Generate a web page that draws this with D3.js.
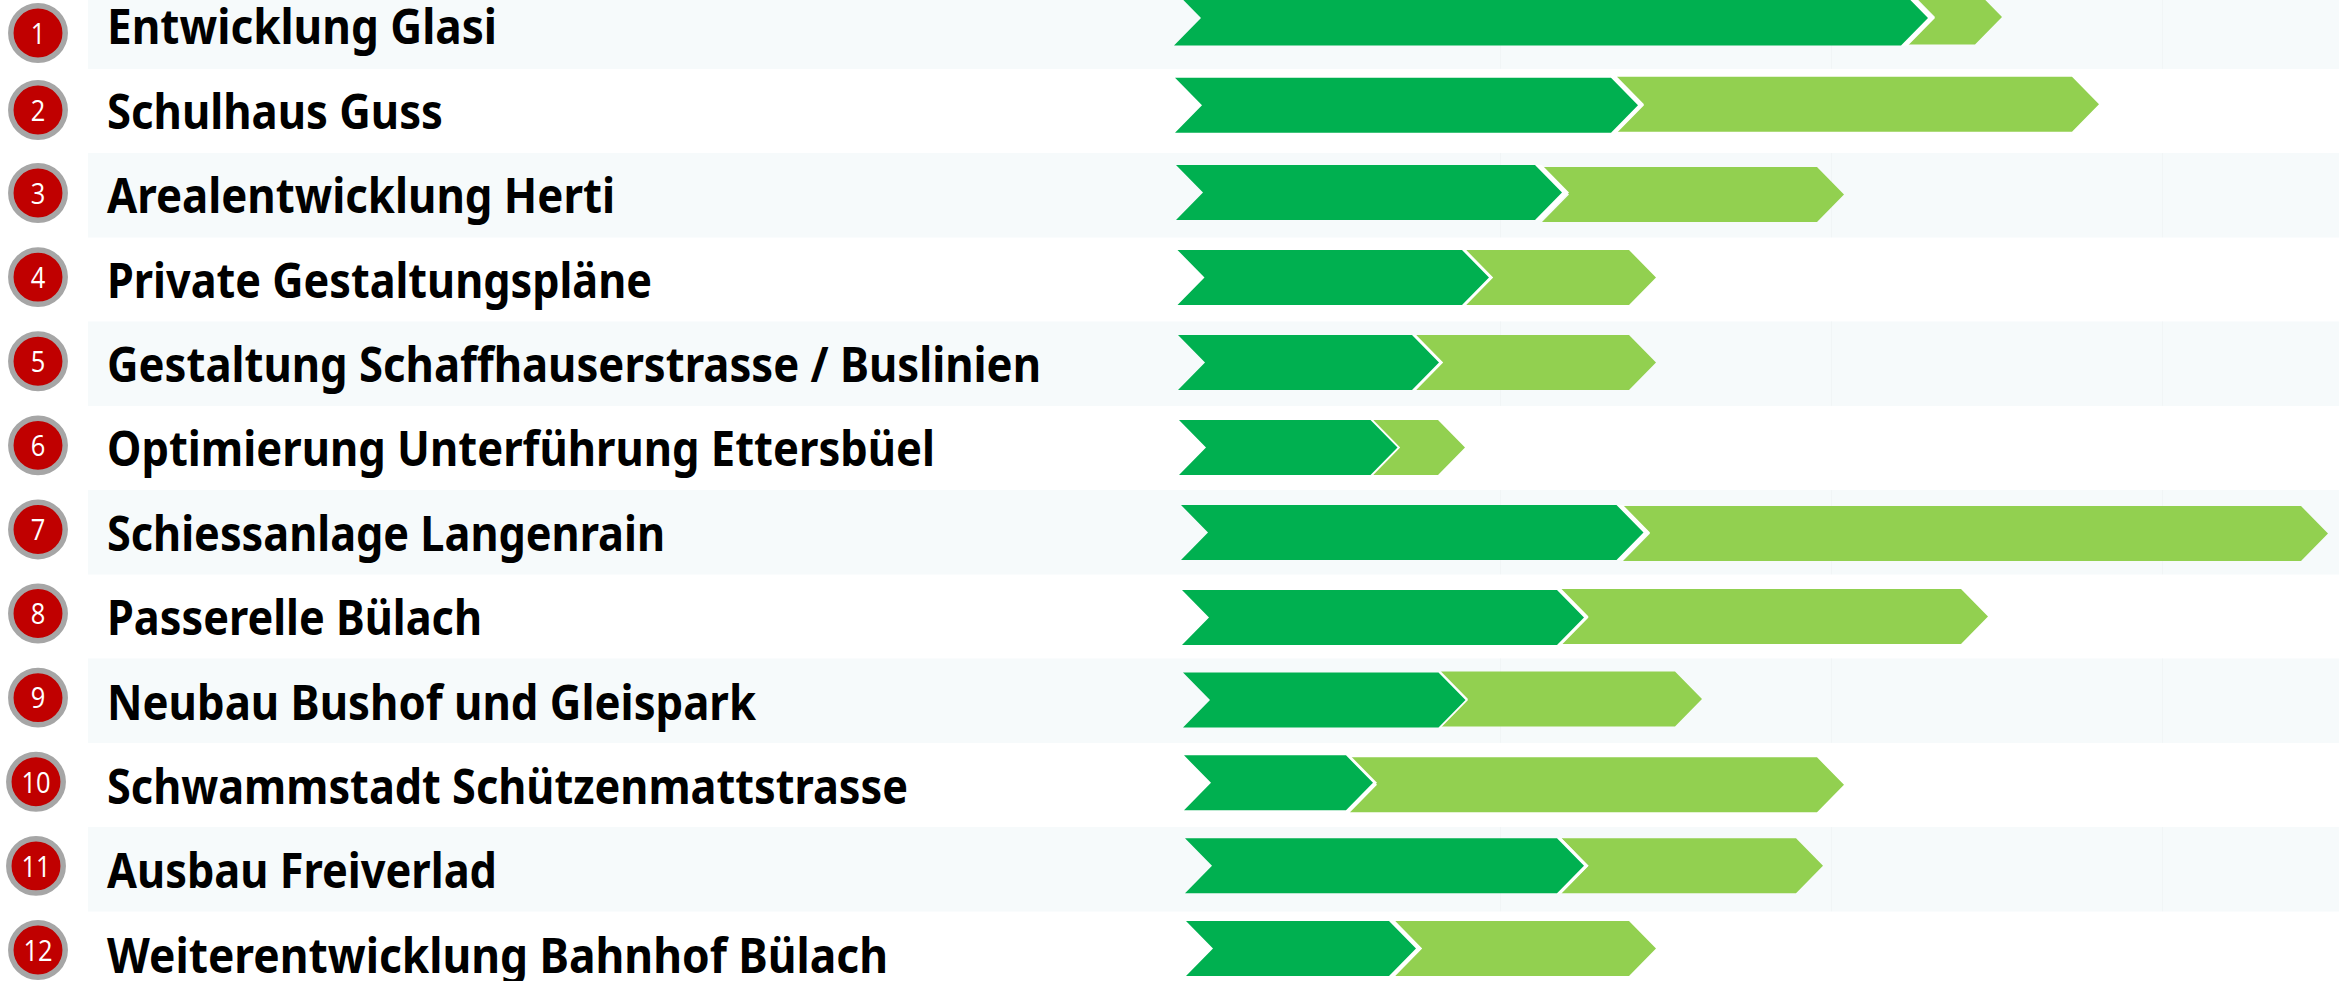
<!DOCTYPE html>
<html>
<head>
<meta charset="utf-8">
<script src="https://cdn.jsdelivr.net/npm/d3@7"></script>
<style>
  html, body { margin: 0; padding: 0; background: #fff; overflow: hidden; }
</style>
</head>
<body>
<div id="chart"></div>
<script>
const projects = [
  "Entwicklung Glasi", "Schulhaus Guss", "Arealentwicklung Herti", "Private Gestaltungspläne",
  "Gestaltung Schaffhauserstrasse / Buslinien", "Optimierung Unterführung Ettersbüel",
  "Schiessanlage Langenrain", "Passerelle Bülach", "Neubau Bushof und Gleispark",
  "Schwammstadt Schützenmattstrasse", "Ausbau Freiverlad", "Weiterentwicklung Bahnhof Bülach"
];
// x values, in picture pixels
const barStart = [1174, 1175, 1176, 1177.5, 1178, 1179, 1181, 1182, 1183, 1184, 1185, 1186];
const darkEnd = [1928, 1638, 1562, 1489, 1439, 1397.5, 1643.5, 1584, 1465.5, 1373, 1584, 1416];
const lightStart = [1908, 1617, 1542, 1466, 1416, 1373, 1623, 1561.5, 1441, 1350, 1561.5, 1395];
const lightEnd = [2002, 2099, 1844, 1656, 1656, 1465, 2328, 1988, 1702, 1844, 1823, 1656];
const gridTicks = [1500, 1831, 2162];

const width = 2339, height = 981;
const barH = 55, tipDepth = 27;

const svg = d3.select("#chart").append("svg")
  .attr("width", width)
  .attr("height", height);

const x = d3.scaleLinear().domain([0, width]).range([0, width]);

// the rows of the original are not evenly spaced, so these scales are piecewise
const stripeY = d3.scaleBand()
  .domain(d3.range(projects.length))
  .range([-15.5, -15.5 + 84.25 * projects.length]);
const barY = d3.scaleLinear()
  .domain([0, 2, 3, 7, 8, 11])
  .range([18, 192.5, 277.5, 617.5, 700, 948.5]);
const badgeY = d3.scaleLinear()
  .domain([0, 1, 2, 11])
  .range([33, 110, 193, 950]);
const labelY = d3.scaleLinear()
  .domain([0, 11])
  .range([44.3, 972.7]);
const badgeX = i => (i === 9 || i === 10) ? 36 : 38;
// light bars sit a pixel or two off the dark ones
const lightShift = i => ({0: -1, 1: -1, 2: 2, 6: 1, 7: -1, 8: -1, 9: 2}[i] || 0);

// label widths, the original font is narrower than Noto Sans
const labelX = 107;
const labelW = [390, 336, 508, 545, 934, 828, 558, 375, 649, 801, 390, 781];

const stripeRows = d3.range(0, projects.length, 2);

// stripes on every other row
svg.selectAll(".stripe")
  .data(stripeRows)
  .enter()
  .append("rect")
  .attr("class", "stripe")
  .attr("x", 88)
  .attr("y", d => stripeY(d))
  .attr("width", width - 88)
  .attr("height", stripeY.bandwidth() + 0.25)
  .attr("fill", "#f6fafb");

// faint timeline ticks, only visible inside the stripes
stripeRows.forEach(r => {
  svg.selectAll(null)
    .data(gridTicks)
    .enter()
    .append("line")
    .attr("x1", d => x(d) + 0.5)
    .attr("x2", d => x(d) + 0.5)
    .attr("y1", stripeY(r))
    .attr("y2", stripeY(r) + stripeY.bandwidth())
    .attr("stroke", "#f1f5f6");
});

function chevron(x0, x1, yc) {
  const top = yc - barH / 2, bot = yc + barH / 2;
  return d3.line()([
    [x0, top], [x1 - tipDepth, top], [x1, yc], [x1 - tipDepth, bot], [x0, bot], [x0 + tipDepth, yc]
  ]) + "Z";
}

const rows = svg.selectAll(".row")
  .data(projects)
  .enter()
  .append("g")
  .attr("class", "row");

rows.append("path")
  .attr("fill", "#92d050")
  .attr("d", (d, i) => chevron(x(lightStart[i]), x(lightEnd[i]), barY(i) + lightShift(i)));

// white gap between the two bars
rows.append("path")
  .attr("fill", "#fff")
  .attr("d", (d, i) => chevron(x(darkEnd[i]) - tipDepth, x(lightStart[i]) + tipDepth, barY(i)));

rows.append("path")
  .attr("fill", "#00b050")
  .attr("d", (d, i) => chevron(x(barStart[i]), x(darkEnd[i]), barY(i)));

// numbered badges
rows.append("circle")
  .attr("cx", (d, i) => badgeX(i))
  .attr("cy", (d, i) => badgeY(i))
  .attr("r", 27.2)
  .attr("fill", "#c00000")
  .attr("stroke", "#a6a6a6")
  .attr("stroke-width", 5.5);

rows.append("text")
  .attr("transform", (d, i) => `translate(${badgeX(i)},${badgeY(i)}) scale(0.85,1)`)
  .attr("dy", "0.36em")
  .attr("text-anchor", "middle")
  .attr("fill", "#fff")
  .style("font", "400 30px 'Open Sans'")
  .text((d, i) => i + 1);

rows.append("text")
  .attr("x", labelX)
  .attr("y", (d, i) => labelY(i))
  .attr("textLength", (d, i) => labelW[i])
  .attr("lengthAdjust", "spacingAndGlyphs")
  .attr("fill", "#000")
  .style("font", "700 49px 'Noto Sans'")
  .text(d => d);
</script>
</body>
</html>
